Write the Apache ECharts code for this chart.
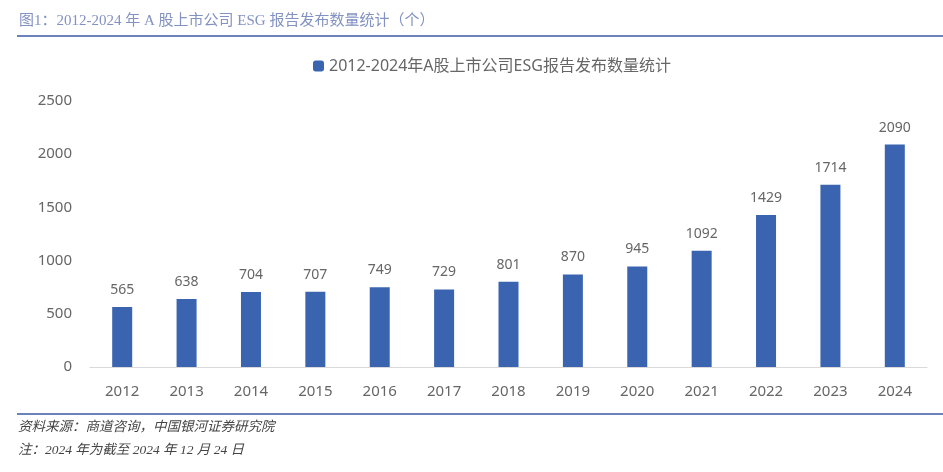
<!DOCTYPE html>
<html><head><meta charset="utf-8">
<script src="https://cdn.jsdelivr.net/npm/echarts@6/dist/echarts.min.js"></script>
<style>html,body{margin:0;padding:0;background:#fff}#c{width:943px;height:472px}</style>
</head><body><div id="c"></div>
<script>
var categories = ['2012','2013','2014','2015','2016','2017','2018','2019','2020','2021','2022','2023','2024'];
var values = [565,638,704,707,749,729,801,870,945,1092,1429,1714,2090];
var yTicks = [0,500,1000,1500,2000,2500];
var seriesName = '2012-2024年A股上市公司ESG报告发布数量统计';
var titleText = '图1：2012-2024 年 A 股上市公司 ESG 报告发布数量统计（个）';
var sourceText = '资料来源：商道咨询，中国银河证券研究院';
var noteText = '注：2024 年为截至 2024 年 12 月 24 日';

var chart = echarts.init(document.getElementById('c'));
var sans = '"Segoe UI", "Noto Sans", "Noto Sans CJK SC", sans-serif';
chart.setOption({
  animation: false,
  title: {
    text: titleText, left: 14, top: 9,
    textStyle: {fontFamily: '"Liberation Serif", "Noto Sans CJK SC", serif', fontSize: 15, fontWeight: 'normal', color: '#8292c2'}
  },
  legend: {
    data: [seriesName], top: 53, left: 308,
    itemWidth: 11, itemHeight: 11, itemGap: 5,
    textStyle: {fontFamily: sans, fontSize: 16, color: '#666'}
  },
  grid: {left: 90, right: 16, top: 101, bottom: 105},
  xAxis: {
    type: 'category', data: categories,
    axisLine: {lineStyle: {color: '#d9d9d9', width: 1}},
    axisTick: {show: false},
    axisLabel: {fontFamily: sans, fontSize: 15, color: '#666', margin: 17}
  },
  yAxis: {
    type: 'value', min: yTicks[0], max: yTicks[yTicks.length-1], interval: 500,
    axisLine: {show: false}, axisTick: {show: false},
    splitLine: {show: false},
    axisLabel: {fontFamily: sans, fontSize: 15, color: '#666', margin: 18, formatter: function(v){return String(v);}}
  },
  series: [{
    name: seriesName, type: 'bar', data: values, barWidth: 20,
    itemStyle: {color: '#3a64b0'},
    label: {show: true, position: 'top', distance: 10, fontFamily: sans, fontSize: 14, color: '#666'}
  }],
  graphic: [
    {type: 'line', shape: {x1: 17, y1: 36, x2: 943, y2: 36}, style: {stroke: '#6b82bd', lineWidth: 2}},
    {type: 'line', shape: {x1: 17, y1: 414, x2: 943, y2: 414}, style: {stroke: '#6b82bd', lineWidth: 2}},
    {type: 'text', left: 18, top: 421, style: {text: sourceText, font: 'italic 13.5px "Liberation Serif", "Noto Sans CJK SC", serif', fill: '#444'}},
    {type: 'text', left: 18, top: 444, style: {text: noteText, font: 'italic 13.5px "Liberation Serif", "Noto Sans CJK SC", serif', fill: '#444'}}
  ]
});
</script></body></html>
